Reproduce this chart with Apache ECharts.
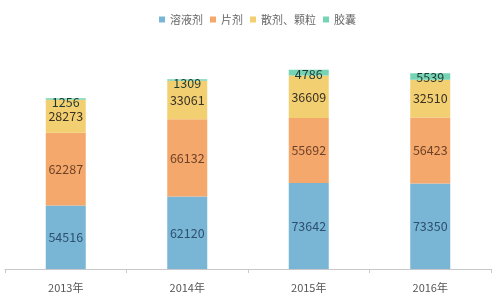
<!DOCTYPE html>
<html><head><meta charset="utf-8">
<script src="https://cdn.jsdelivr.net/npm/echarts@6/dist/echarts.min.js"></script>
<style>html,body{margin:0;padding:0;background:#fff}#c{width:500px;height:305px}</style>
</head><body><div id="c"></div>
<script>
const categories = ['2013年','2014年','2015年','2016年'];
const seriesNames = ['溶液剂','片剂','散剂、颗粒','胶囊'];
const solution = [54516, 62120, 73642, 73350];
const tablet = [62287, 66132, 55692, 56423];
const powder = [28273, 33061, 36609, 32510];
const capsule = [1256, 1309, 4786, 5539];

const colors = ['#79b6d6', '#f5a86b', '#f2cf70', '#76d4b4'];
const labelColors = ['#2e4f6e', '#6e4228', '#3a3226', '#1f3a33'];
const dataSets = [solution, tablet, powder, capsule];

const chart = echarts.init(document.getElementById('c'));
chart.setOption({
  animation: false,
  textStyle: {fontFamily: '"Noto Sans CJK SC", "Open Sans", sans-serif'},
  legend: {
    data: seriesNames, top: 9, left: 154,
    itemWidth: 6, itemHeight: 6, itemGap: 7,
    icon: 'rect',
    textStyle: {fontSize: 11, color: '#666'}
  },
  grid: {left: 5, right: 9, top: 59, bottom: 36},
  xAxis: {
    type: 'category', data: categories,
    axisLine: {lineStyle: {color: '#c8c8c8'}},
    axisTick: {show: true, inside: false, length: 4, lineStyle: {color: '#c8c8c8'}},
    axisLabel: {color: '#555', fontSize: 11, margin: 13}
  },
  yAxis: {type: 'value', min: 0, max: 180000, show: false, splitLine: {show: false}},
  series: seriesNames.map((n, i) => ({
    name: n, type: 'bar', stack: 'total', barWidth: 40,
    data: dataSets[i],
    itemStyle: {color: colors[i]},
    label: {
      show: true,
      position: i === 3 ? 'insideTop' : 'inside',
      offset: i === 3 ? [0, -7] : [0, 0],
      color: labelColors[i], fontSize: 12.5,
      fontFamily: '"Noto Sans CJK SC", sans-serif'
    }
  }))
});
</script></body></html>
